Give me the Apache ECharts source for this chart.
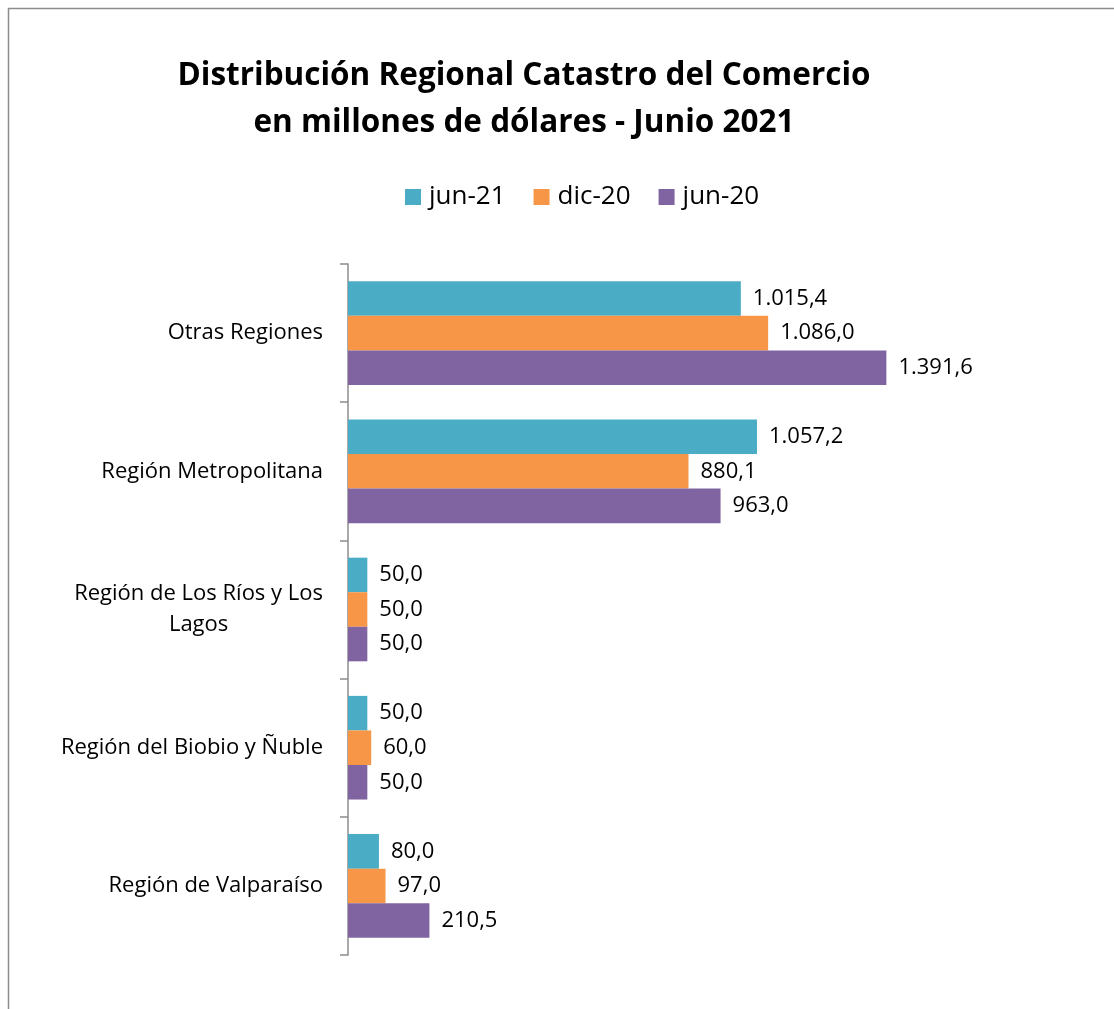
<!DOCTYPE html>
<html>
<head>
<meta charset="utf-8">
<script src="https://cdn.jsdelivr.net/npm/echarts@6/dist/echarts.min.js"></script>
<style>
  html, body { margin: 0; padding: 0; background: #fff; }
  #chart { width: 1114px; height: 1009px; }
</style>
</head>
<body>
<div id="chart"></div>
<script>
// categories listed top to bottom (yAxis is inverted)
const regions = [
    'Otras Regiones',
    'Región Metropolitana',
    'Región de Los Ríos y Los Lagos',
    'Región del Biobio y Ñuble',
    'Región de Valparaíso'
];
const seriesNames = ['jun-21', 'dic-20', 'jun-20'];
const jun21 = [1015.4, 1057.2, 50.0, 50.0, 80.0];
const dic20 = [1086.0, 880.1, 50.0, 60.0, 97.0];
const jun20 = [1391.6, 963.0, 50.0, 50.0, 210.5];
const colors = ['#4BACC6', '#F79646', '#8064A2'];

const FONT = 'Open Sans';

// 1015.4 -> "1.015,4"
const fmt = (v) => {
    const [i, d] = v.toFixed(1).split('.');
    return i.replace(/\B(?=(\d{3})+(?!\d))/g, '.') + ',' + d;
};

const myChart = echarts.init(document.getElementById('chart'));

const mkSeries = (name, data, color) => ({
    name: name,
    type: 'bar',
    data: data,
    barGap: '0%',
    barCategoryGap: '25%',
    itemStyle: { color: color },
    label: {
        show: true,
        position: 'right',
        distance: 12,
        color: '#000',
        fontFamily: FONT,
        fontSize: 22,
        formatter: (p) => fmt(p.value)
    }
});

const option = {
    backgroundColor: '#fff',
    animation: false,
    graphic: [{
        type: 'rect',
        shape: { x: 8.5, y: 8.5, width: 1300, height: 1200 },
        style: { fill: 'none', stroke: '#8c8c8c', lineWidth: 1.5 },
        silent: true
    }],
    title: {
        text: 'Distribución Regional Catastro del Comercio\nen millones de dólares - Junio 2021',
        left: 519,
        top: 48,
        textAlign: 'center',
        textStyle: {
            fontFamily: FONT,
            fontWeight: 'bold',
            fontSize: 31.5,
            lineHeight: 47,
            color: '#000'
        }
    },
    legend: {
        data: seriesNames,
        top: 179,
        left: 400,
        itemWidth: 16,
        itemHeight: 16,
        itemGap: 28,
        icon: 'rect',
        textStyle: { fontFamily: FONT, fontSize: 26, color: '#000', padding: [0, 0, 0, 3] }
    },
    grid: {
        left: 348,
        top: 264,
        right: 147,
        bottom: 54
    },
    xAxis: {
        type: 'value',
        min: 0,
        max: 1600,
        show: false,
        splitLine: { show: false }
    },
    yAxis: {
        type: 'category',
        inverse: true,
        data: regions,
        axisLine: { lineStyle: { color: '#8c8c8c', width: 1.5 } },
        axisTick: { show: true, length: 8, lineStyle: { color: '#8c8c8c', width: 1.5 } },
        axisLabel: {
            margin: 25,
            color: '#000',
            fontFamily: FONT,
            fontSize: 22,
            formatter: (v) => v === 'Región de Los Ríos y Los Lagos'
                ? '{c|Región de Los Ríos y Los}\n{c|Lagos}'
                : v,
            rich: {
                c: { align: 'center', fontFamily: FONT, fontSize: 22, color: '#000', lineHeight: 31 }
            }
        }
    },
    series: [
        mkSeries(seriesNames[0], jun21, colors[0]),
        mkSeries(seriesNames[1], dic20, colors[1]),
        mkSeries(seriesNames[2], jun20, colors[2])
    ]
};

myChart.setOption(option);
</script>
</body>
</html>
